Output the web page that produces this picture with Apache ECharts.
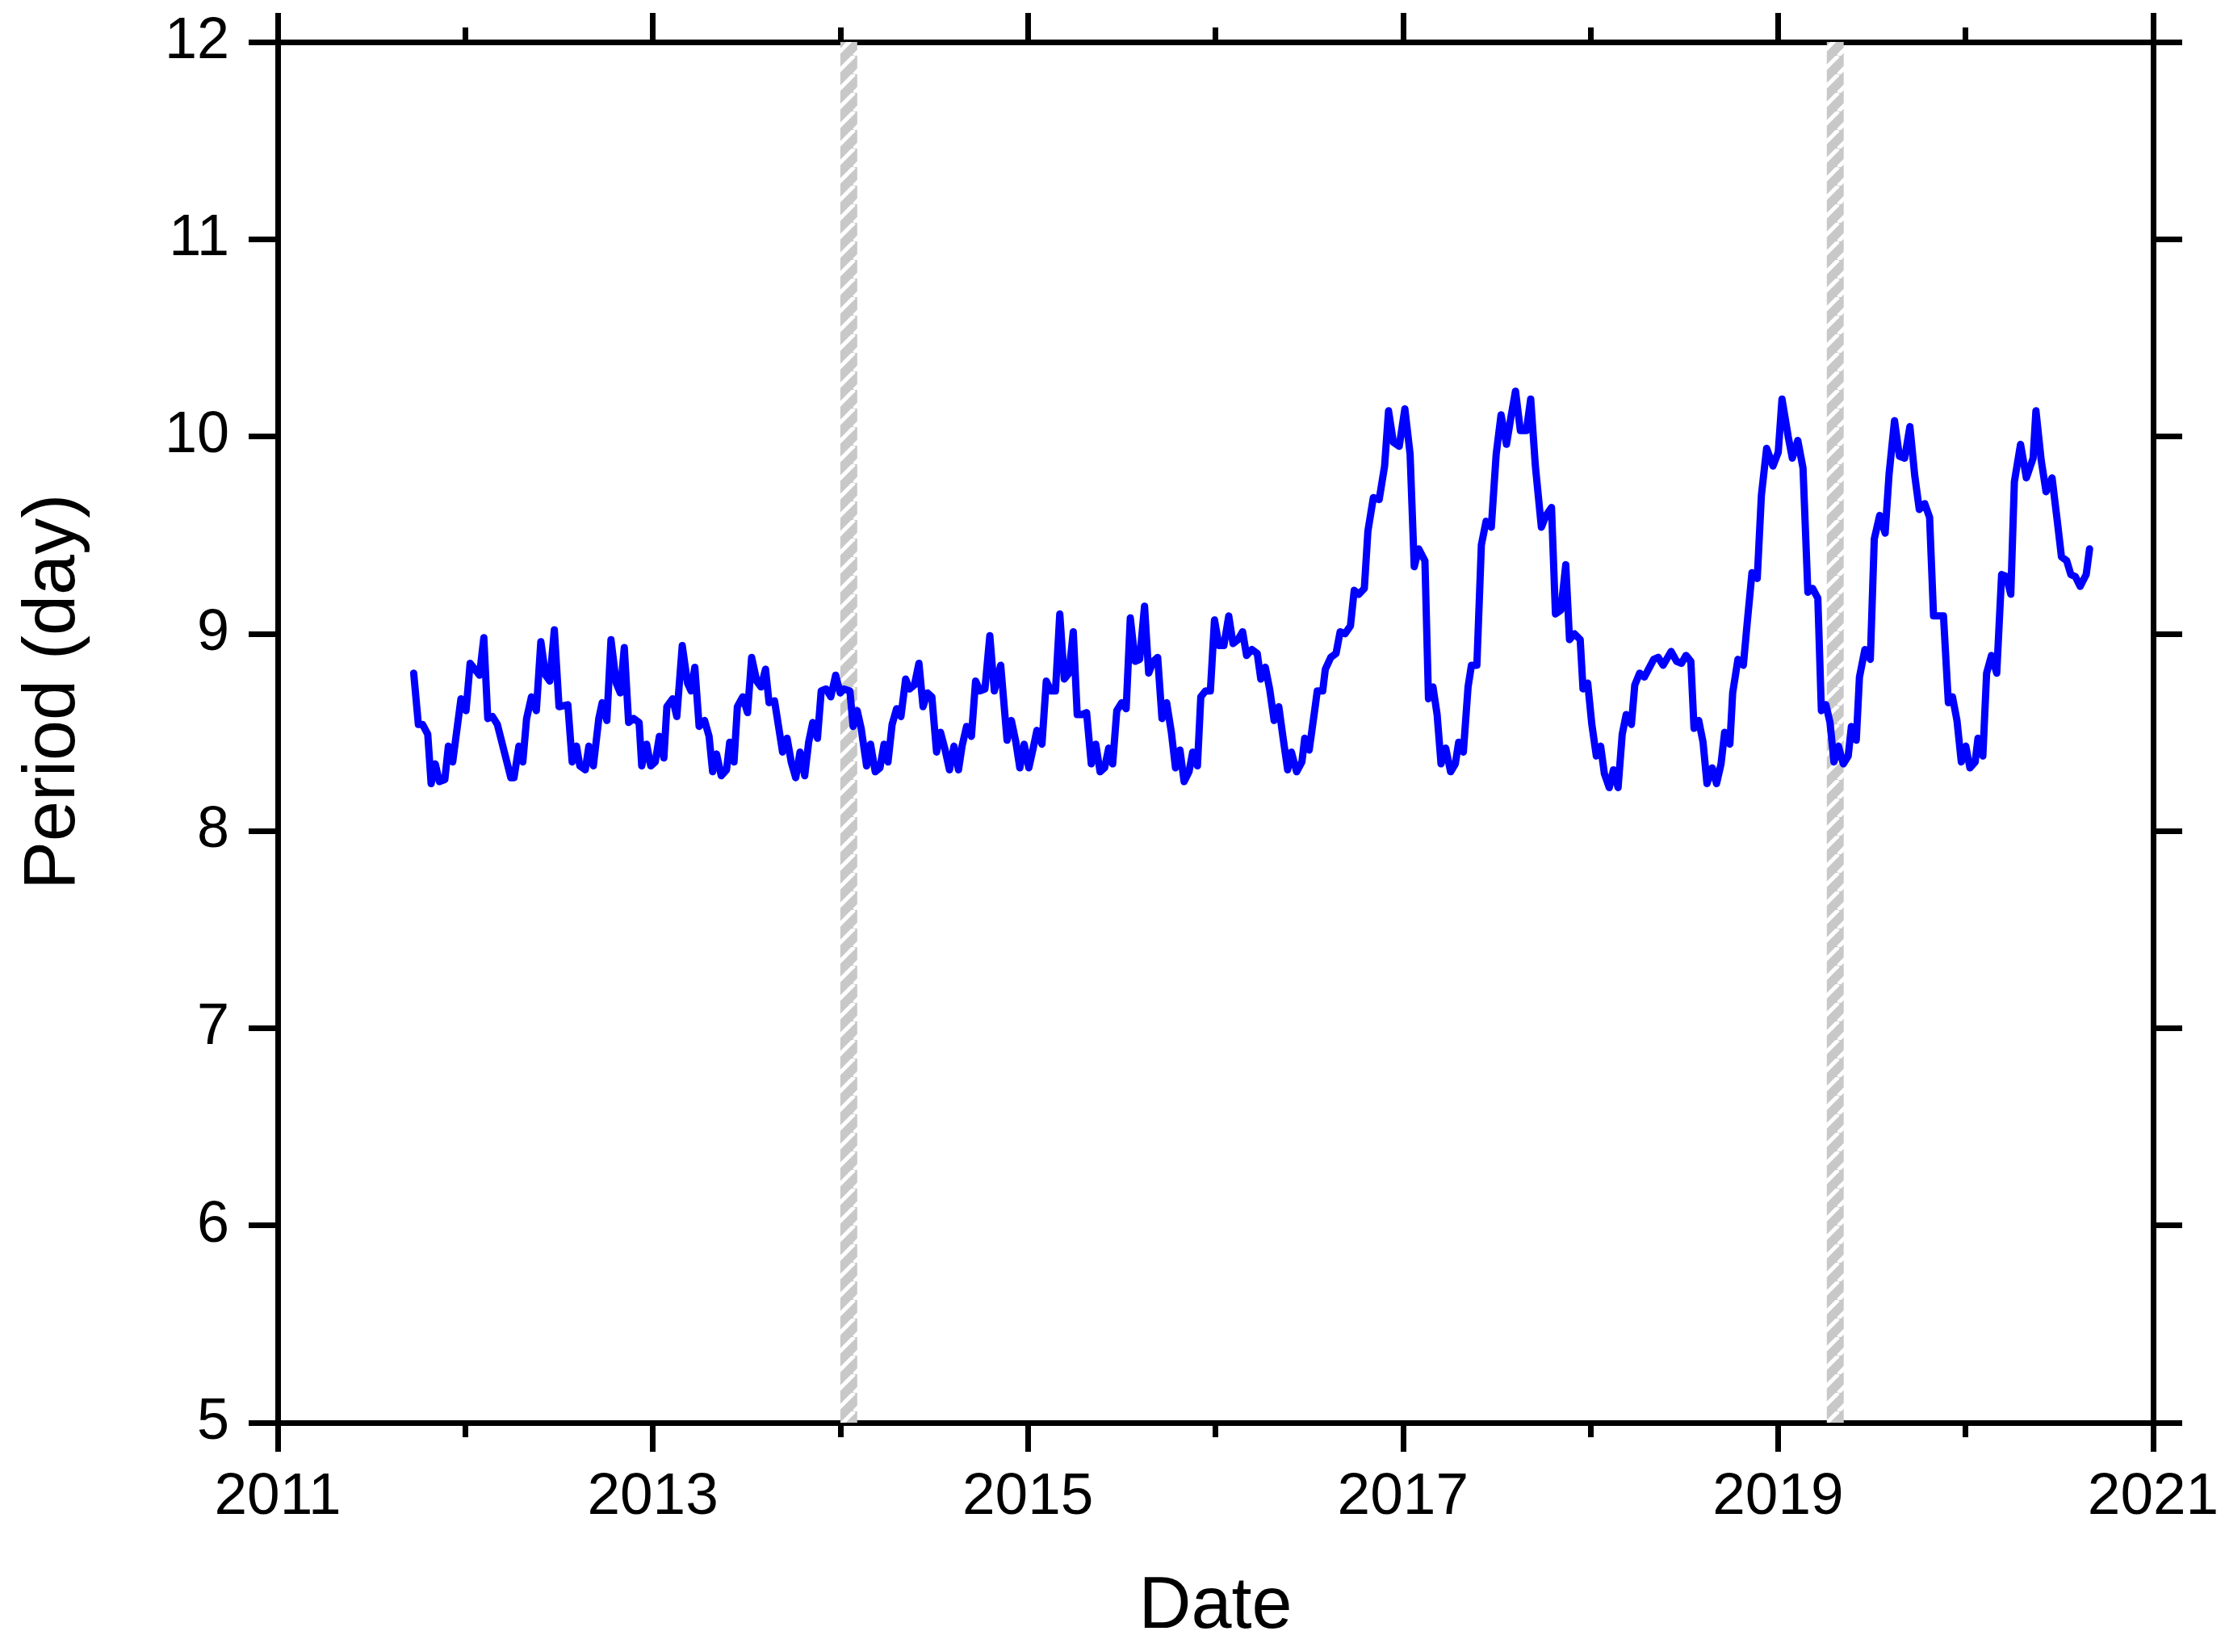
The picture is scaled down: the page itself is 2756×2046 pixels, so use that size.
<!DOCTYPE html>
<html>
<head>
<meta charset="utf-8">
<script src="https://cdn.jsdelivr.net/npm/echarts@6/dist/echarts.min.js"></script>
<style>
html,body{margin:0;padding:0;background:#fff;}
#chart{width:2756px;height:2046px;}
</style>
</head>
<body>
<div id="chart"></div>
<script>
// decimal years
const years = [
2011.725,2011.750,2011.772,2011.800,2011.818,2011.840,2011.862,2011.891,2011.910,2011.933,
2011.977,2012.004,2012.026,2012.076,2012.099,2012.120,2012.145,2012.171,2012.243,2012.260,
2012.286,2012.307,2012.327,2012.353,2012.379,2012.403,2012.428,2012.451,2012.475,2012.500,
2012.547,2012.570,2012.593,2012.611,2012.640,2012.659,2012.683,2012.712,2012.730,2012.755,
2012.777,2012.805,2012.827,2012.848,2012.871,2012.898,2012.927,2012.941,2012.967,2012.989,
2013.013,2013.035,2013.059,2013.075,2013.106,2013.128,2013.157,2013.185,2013.204,2013.224,
2013.247,2013.276,2013.300,2013.319,2013.340,2013.365,2013.393,2013.410,2013.433,2013.451,
2013.480,2013.505,2013.527,2013.554,2013.577,2013.601,2013.620,2013.649,2013.692,2013.716,
2013.738,2013.762,2013.785,2013.810,2013.831,2013.853,2013.878,2013.898,2013.924,2013.949,
2013.975,2013.999,2014.018,2014.051,2014.068,2014.090,2014.111,2014.140,2014.161,2014.186,
2014.211,2014.233,2014.254,2014.276,2014.300,2014.323,2014.348,2014.369,2014.395,2014.419,
2014.441,2014.464,2014.488,2014.513,2014.534,2014.559,2014.582,2014.606,2014.630,2014.649,
2014.673,2014.699,2014.721,2014.745,2014.771,2014.797,2014.821,2014.855,2014.889,2014.912,
2014.936,2014.957,2014.980,2015.005,2015.026,2015.048,2015.075,2015.098,2015.123,2015.147,
2015.170,2015.194,2015.219,2015.242,2015.263,2015.288,2015.313,2015.338,2015.362,2015.385,
2015.409,2015.431,2015.452,2015.474,2015.500,2015.524,2015.546,2015.572,2015.596,2015.622,
2015.644,2015.668,2015.692,2015.715,2015.740,2015.765,2015.787,2015.811,2015.833,2015.859,
2015.879,2015.904,2015.922,2015.947,2015.973,2015.995,2016.019,2016.045,2016.071,2016.094,
2016.120,2016.145,2016.166,2016.194,2016.223,2016.242,2016.266,2016.289,2016.313,2016.338,
2016.361,2016.385,2016.405,2016.433,2016.461,2016.476,2016.500,2016.529,2016.543,2016.572,
2016.586,2016.615,2016.643,2016.665,2016.691,2016.720,2016.740,2016.765,2016.794,2016.813,
2016.842,2016.873,2016.902,2016.923,2016.949,2016.980,2017.010,2017.038,2017.060,2017.084,
2017.117,2017.136,2017.160,2017.182,2017.203,2017.228,2017.254,2017.279,2017.297,2017.322,
2017.347,2017.365,2017.394,2017.418,2017.443,2017.471,2017.497,2017.523,2017.552,2017.576,
2017.600,2017.626,2017.658,2017.681,2017.706,2017.738,2017.763,2017.792,2017.813,2017.842,
2017.868,2017.888,2017.914,2017.945,2017.960,2017.985,2018.007,2018.031,2018.054,2018.074,
2018.100,2018.122,2018.147,2018.169,2018.190,2018.218,2018.236,2018.262,2018.287,2018.337,
2018.361,2018.387,2018.430,2018.459,2018.485,2018.509,2018.535,2018.552,2018.577,2018.600,
2018.621,2018.649,2018.672,2018.696,2018.715,2018.743,2018.758,2018.786,2018.815,2018.835,
2018.861,2018.889,2018.911,2018.939,2018.973,2019.001,2019.021,2019.054,2019.076,2019.105,
2019.133,2019.159,2019.184,2019.212,2019.231,2019.255,2019.277,2019.298,2019.322,2019.348,
2019.374,2019.391,2019.417,2019.434,2019.463,2019.492,2019.513,2019.542,2019.571,2019.592,
2019.621,2019.647,2019.675,2019.703,2019.729,2019.753,2019.782,2019.808,2019.829,2019.882,
2019.908,2019.930,2019.954,2019.977,2020.001,2020.023,2020.051,2020.066,2020.092,2020.112,
2020.138,2020.166,2020.192,2020.217,2020.241,2020.260,2020.293,2020.324,2020.360,2020.375,
2020.403,2020.429,2020.461,2020.489,2020.511,2020.539,2020.561,2020.585,2020.611,2020.643,
2020.661
];
// period (day)
const periods = [
8.80,8.54,8.54,8.49,8.24,8.34,8.25,8.26,8.43,8.35,
8.67,8.61,8.85,8.79,8.98,8.57,8.58,8.54,8.27,8.27,
8.43,8.35,8.57,8.68,8.61,8.96,8.79,8.76,9.02,8.63,
8.64,8.35,8.43,8.33,8.31,8.43,8.33,8.57,8.65,8.56,
8.97,8.75,8.70,8.93,8.55,8.57,8.55,8.33,8.44,8.33,
8.35,8.48,8.37,8.63,8.67,8.58,8.94,8.75,8.71,8.83,
8.53,8.56,8.48,8.30,8.39,8.28,8.31,8.45,8.35,8.63,
8.68,8.60,8.88,8.76,8.73,8.82,8.65,8.66,8.40,8.47,
8.35,8.27,8.40,8.28,8.45,8.55,8.47,8.71,8.72,8.68,
8.79,8.70,8.72,8.71,8.53,8.61,8.52,8.33,8.44,8.30,
8.32,8.44,8.35,8.54,8.62,8.58,8.77,8.72,8.74,8.85,
8.63,8.70,8.68,8.40,8.50,8.41,8.31,8.43,8.31,8.43,
8.53,8.48,8.76,8.71,8.72,8.99,8.71,8.84,8.46,8.56,
8.45,8.32,8.44,8.32,8.41,8.51,8.44,8.76,8.71,8.71,
9.10,8.77,8.80,9.01,8.59,8.59,8.60,8.34,8.44,8.30,
8.32,8.42,8.34,8.61,8.65,8.62,9.08,8.86,8.87,9.14,
8.80,8.86,8.88,8.57,8.65,8.50,8.32,8.41,8.25,8.30,
8.40,8.33,8.68,8.71,8.71,9.07,8.94,8.94,9.09,8.95,
8.97,9.01,8.89,8.92,8.90,8.77,8.83,8.72,8.56,8.63,
8.47,8.31,8.40,8.30,8.35,8.47,8.41,8.61,8.71,8.71,
8.82,8.88,8.90,9.01,9.00,9.04,9.22,9.20,9.23,9.52,
9.69,9.68,9.85,10.13,9.97,9.95,10.14,9.91,9.34,9.43,
9.37,8.67,8.73,8.59,8.34,8.42,8.30,8.34,8.45,8.40,
8.73,8.84,8.84,9.45,9.57,9.54,9.91,10.11,9.96,10.10,
10.23,10.03,10.03,10.19,9.85,9.54,9.60,9.64,9.10,9.12,
9.35,8.97,9.00,8.97,8.72,8.75,8.54,8.38,8.43,8.29,
8.22,8.31,8.22,8.49,8.59,8.54,8.74,8.80,8.78,8.87,
8.88,8.84,8.91,8.86,8.85,8.89,8.86,8.52,8.56,8.45,
8.24,8.32,8.24,8.34,8.50,8.44,8.70,8.87,8.84,9.05,
9.31,9.28,9.70,9.94,9.85,9.92,10.19,10.00,9.89,9.98,
9.84,9.21,9.23,9.18,8.61,8.64,8.55,8.35,8.43,8.34,
8.38,8.53,8.46,8.78,8.92,8.87,9.48,9.60,9.51,9.81,
10.08,9.90,9.89,10.05,9.80,9.63,9.66,9.59,9.09,9.09,
8.65,8.68,8.56,8.35,8.43,8.32,8.35,8.47,8.38,8.80,
8.89,8.80,9.30,9.29,9.20,9.77,9.96,9.79,9.89,10.13,
9.88,9.72,9.79,9.57,9.39,9.37,9.30,9.29,9.24,9.30,
9.43
];
// shaded (hatched) intervals, decimal years
const bandStarts = [2014.00, 2019.26];
const bandEnds   = [2014.09, 2019.35];
const xTickLabels = ['2011','2013','2015','2017','2019','2021'];

const FONT = 'Liberation Sans, Arial, Helvetica, sans-serif';

// hatch pattern
const pc = document.createElement('canvas');
pc.width = 23; pc.height = 23;
const g = pc.getContext('2d');
g.fillStyle = '#c8c8c8';
g.fillRect(0,0,23,23);
g.strokeStyle = '#ffffff';
g.lineWidth = 5;
for (const k of [-23, 0, 23]) {
  g.beginPath(); g.moveTo(k, 23); g.lineTo(k + 23, 0); g.stroke();
}

const seriesData = years.map((y, i) => [y, periods[i]]);
const bands = bandStarts.map((s, i) => [{xAxis: s}, {xAxis: bandEnds[i]}]);

const axisLine = {show: true, lineStyle: {color: '#000', width: 7, cap: 'square'}};
const majorTick = {show: true, inside: false, length: 36, lineStyle: {color: '#000', width: 7}};
const minorTickX = {show: true, splitNumber: 2, length: 18, lineStyle: {color: '#000', width: 7}};

const xBase = {
  type: 'value', min: 2011, max: 2021, interval: 2,
  axisLine: axisLine, axisTick: majorTick, minorTick: minorTickX,
  splitLine: {show: false}, minorSplitLine: {show: false}
};
const yBase = {
  type: 'value', min: 5, max: 12, interval: 1,
  axisLine: axisLine, axisTick: majorTick,
  splitLine: {show: false}
};

const chart = echarts.init(document.getElementById('chart'), null, {renderer: 'canvas'});
chart.setOption({
  animation: false,
  backgroundColor: '#ffffff',
  grid: {left: 344, right: 89, top: 52, bottom: 284, containLabel: false},
  xAxis: [
    Object.assign({}, xBase, {
      position: 'bottom',
      name: 'Date', nameLocation: 'middle', nameGap: 184,
      nameTextStyle: {fontFamily: FONT, fontSize: 90, color: '#000'},
      axisLabel: {show: true, margin: 56, fontFamily: FONT, fontSize: 73, color: '#000',
        showMinLabel: true, showMaxLabel: true,
        formatter: v => xTickLabels[Math.round((v - 2011) / 2)] || ''}
    }),
    Object.assign({}, xBase, {position: 'top', axisLabel: {show: false}})
  ],
  yAxis: [
    Object.assign({}, yBase, {
      position: 'left',
      name: 'Period (day)', nameLocation: 'middle', nameGap: 232, nameRotate: 90,
      nameTextStyle: {fontFamily: FONT, fontSize: 90, color: '#000', padding: [0, 0, 0, 100]},
      axisLabel: {show: true, margin: 60, fontFamily: FONT, fontSize: 72, color: '#000'}
    }),
    Object.assign({}, yBase, {position: 'right', axisLabel: {show: false}})
  ],
  series: [{
    type: 'line',
    data: seriesData,
    showSymbol: false,
    symbol: 'none',
    lineStyle: {color: '#0000ff', width: 9, join: 'round', cap: 'round'},
    z: 3,
    markArea: {
      silent: true,
      z: 1,
      itemStyle: {color: {image: pc, repeat: 'repeat'}, borderWidth: 0},
      data: bands
    }
  }]
});
</script>
</body>
</html>
